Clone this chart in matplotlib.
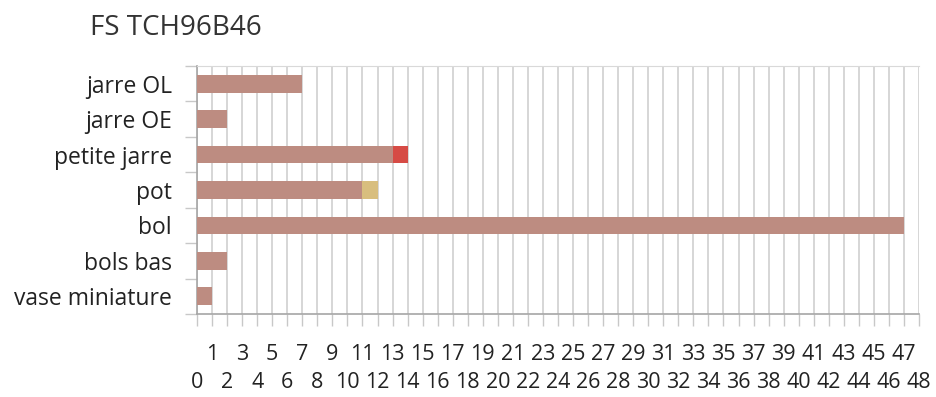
import matplotlib
matplotlib.use("Agg")
import matplotlib.pyplot as plt
import numpy as np

# data
categories = ["jarre OL", "jarre OE", "petite jarre", "pot", "bol", "bols bas", "vase miniature"]
base_counts = [7, 2, 13, 11, 47, 2, 1]
red_counts = [0, 0, 1, 0, 0, 0, 0]
tan_counts = [0, 0, 0, 1, 0, 0, 0]
x_max = 48
title = "FS TCH96B46"

plt.rcParams['font.family'] = ['Open Sans', 'DejaVu Sans']
text_color = '#222222'

fig = plt.figure(figsize=(9.36, 3.97), dpi=100)
ax = fig.add_axes([197 / 936, 1 - 314 / 397, (919 - 197) / 936, (314 - 66) / 397])

y = np.arange(len(categories))
base = np.array(base_counts)
red = np.array(red_counts)
tan = np.array(tan_counts)

ax.barh(y, base, height=0.5, color='#BD8C81', zorder=3)
ax.barh(y, red, left=base, height=0.5, color='#D64B45', zorder=3)
ax.barh(y, tan, left=base + red, height=0.5, color='#D8BE7E', zorder=3)

ax.set_xlim(0, x_max)
ax.set_ylim(len(categories) - 0.5, -0.5)

# x ticks: even labels on the lower row, odd labels on the upper row
ax.set_xticks(range(0, x_max + 1, 2))
ax.set_xticklabels([str(v) for v in range(0, x_max + 1, 2)])
ax.set_xticks(range(1, x_max + 1, 2), minor=True)
ax.set_xticklabels([str(v) for v in range(1, x_max + 1, 2)], minor=True)
ax.tick_params(axis='x', which='major', length=8.6, width=1, color='#C8C8C8',
               pad=33, labelsize=15.5, labelcolor=text_color)
ax.tick_params(axis='x', which='minor', length=8.6, width=1, color='#C8C8C8',
               pad=13, labelsize=15.5, labelcolor=text_color)

# y ticks: marks at category borders, labels centred on the bars
ax.set_yticks(np.arange(-0.5, len(categories), 1.0))
ax.set_yticklabels([])
ax.set_yticks(y, minor=True)
ax.set_yticklabels(categories, minor=True)
ax.tick_params(axis='y', which='major', length=8.6, width=1, color='#C8C8C8')
ax.tick_params(axis='y', which='minor', length=0, pad=18, labelsize=16.5,
               labelcolor=text_color)

# vertical grid at every unit
for v in range(0, x_max + 1):
    ax.axvline(v, color='#D0D0D0', linewidth=1.2, zorder=1)

for side in ['right']:
    ax.spines[side].set_visible(False)
ax.spines['top'].set_color('#D9D9D9')
ax.spines['left'].set_color('#A6A6A6')
ax.spines['bottom'].set_color('#A6A6A6')
ax.spines['left'].set_linewidth(1.2)
ax.spines['bottom'].set_linewidth(1.2)

fig.text(90 / 936, 1 - 28 / 397, title, fontsize=20, color='#333333',
         ha='left', va='center')

plt.savefig('out.png', dpi=100, facecolor='white')
